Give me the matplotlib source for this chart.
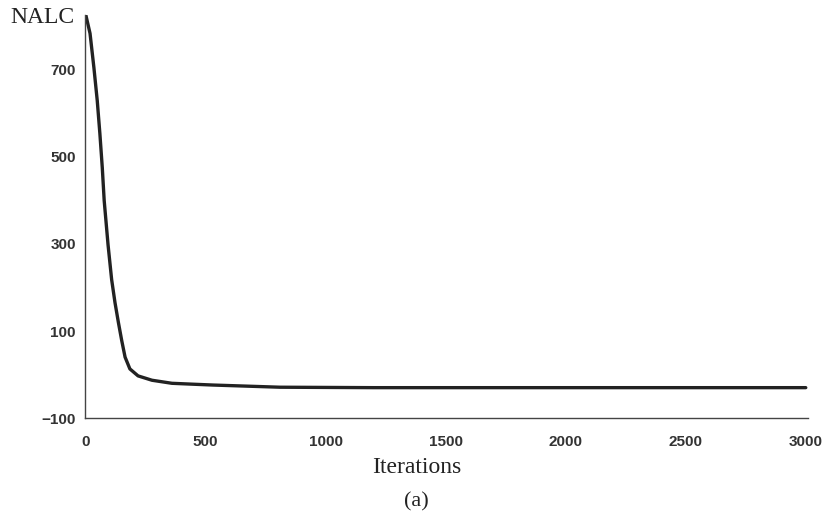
import matplotlib
matplotlib.use("Agg")
import matplotlib.pyplot as plt

# values
iterations = [0, 2, 19, 35, 49, 60, 70, 78, 94, 109, 123, 137, 151, 165, 185, 219,
              277, 360, 444, 531, 810, 1200, 2000, 3000]
nalc = [826, 824, 783, 705, 629, 553, 475, 399, 298, 218, 165, 120, 78, 40, 13, -3,
        -13, -20, -22, -24, -29, -30, -30, -30]

x_ticks = [0, 500, 1000, 1500, 2000, 2500, 3000]
y_ticks = [-100, 100, 300, 500, 700]

fig = plt.figure(figsize=(8.25, 5.24), dpi=100)
ax = fig.add_axes([0.1036, 0.202, 0.876, 0.770])

ax.plot(iterations, nalc, color="#222222", linewidth=2.4,
        solid_capstyle="round", solid_joinstyle="round")

ax.set_xlim(0, 3010)
ax.set_ylim(-100, 826)
ax.set_xticks(x_ticks)
ax.set_yticks(y_ticks)

for side in ["top", "right"]:
    ax.spines[side].set_visible(False)
for side in ["left", "bottom"]:
    ax.spines[side].set_color("#444444")
    ax.spines[side].set_linewidth(1.0)

ax.tick_params(length=0, labelsize=11, labelcolor="#333333")
ax.tick_params(axis="x", pad=12)
ax.tick_params(axis="y", pad=7)
for lab in ax.get_xticklabels() + ax.get_yticklabels():
    lab.set_fontfamily("Liberation Sans")
    lab.set_fontweight("bold")

fig.text(0.012, 0.966, "NALC", family="Liberation Serif", fontsize=17,
         color="#222222", ha="left", va="center")
fig.text(0.505, 0.108, "Iterations", family="Liberation Serif", fontsize=17,
         color="#222222", ha="center", va="center")
fig.text(0.505, 0.042, "(a)", family="Liberation Serif", fontsize=16,
         color="#222222", ha="center", va="center")

fig.savefig("out.png", dpi=100, facecolor="white")
